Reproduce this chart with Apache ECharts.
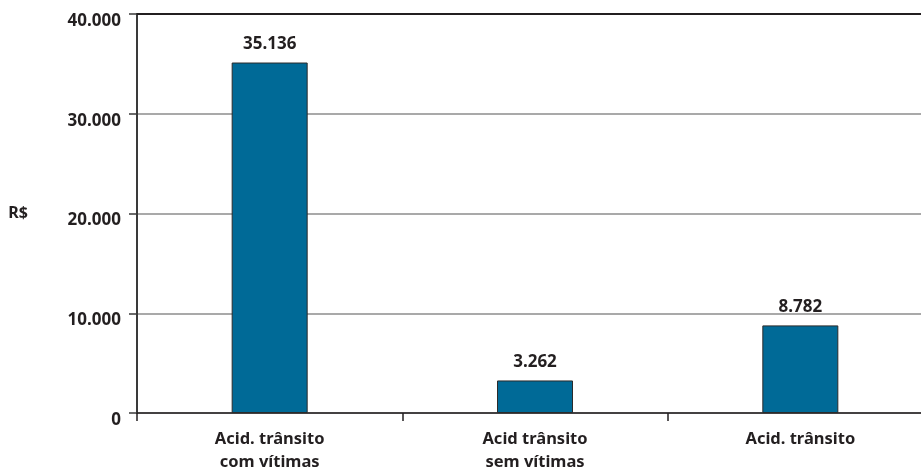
<!DOCTYPE html>
<html>
<head>
<meta charset="utf-8">
<script src="https://cdn.jsdelivr.net/npm/echarts@6/dist/echarts.min.js"></script>
<style>
  html, body { margin: 0; padding: 0; background: #fff; }
  #chart { width: 921px; height: 471px; }
</style>
</head>
<body>
<div id="chart"></div>
<script>
// dados do gráfico
const categorias = ['Acid. trânsito\ncom vítimas', 'Acid trânsito\nsem vítimas', 'Acid. trânsito']
const valores = [35136, 3262, 8782]
const eixoY = { min: 0, max: 40000, interval: 10000 }
const nomeEixo = 'R$'

// separador de milhar com ponto
function fmt(v) {
  return String(Math.round(v)).replace(/\B(?=(\d{3})+(?!\d))/g, '.')
}

const textColor = '#231f20'
const fonte = '"Noto Sans", "Open Sans", sans-serif'

const chart = echarts.init(document.getElementById('chart'))
chart.setOption({
  animation: false,
  // a área do gráfico continua além da borda direita
  grid: { left: 137, width: 796, top: 14, bottom: 58, outerBoundsMode: 'none' },
  xAxis: [
    {
      type: 'category',
      data: categorias,
      axisLine: { lineStyle: { color: '#231f20', width: 1.5 } },
      axisTick: { show: true, length: 8, lineStyle: { color: '#231f20', width: 1.5 } },
      axisLabel: {
        color: textColor,
        fontFamily: fonte,
        fontWeight: 'bold',
        fontSize: 16.5,
        lineHeight: 23,
        margin: 15,
      },
    },
    {
      // linha superior do quadro
      type: 'category',
      position: 'top',
      data: categorias,
      axisLine: { show: true, lineStyle: { color: '#231f20', width: 2 } },
      axisTick: { show: false },
      axisLabel: { show: false },
    },
  ],
  yAxis: {
    type: 'value',
    min: eixoY.min,
    max: eixoY.max,
    interval: eixoY.interval,
    name: nomeEixo,
    nameLocation: 'middle',
    nameRotate: 0,
    nameGap: 109,
    nameTextStyle: {
      color: textColor,
      fontFamily: fonte,
      fontWeight: 'bold',
      fontSize: 16,
    },
    axisLine: { show: true, lineStyle: { color: '#3a3a3a', width: 2 } },
    axisTick: { show: true, length: 8, lineStyle: { color: '#3a3a3a', width: 1.5 } },
    axisLabel: {
      color: textColor,
      fontFamily: fonte,
      fontWeight: 'bold',
      fontSize: 17,
      margin: 16,
      verticalAlign: 'top',
      lineHeight: 14,
      formatter: (v) => fmt(v),
    },
    splitLine: { show: true, lineStyle: { color: '#8c8c8c', width: 1.5 } },
  },
  series: [
    {
      type: 'bar',
      data: valores,
      barWidth: 76,
      itemStyle: { color: '#006a97', borderColor: '#2b2b2b', borderWidth: 1 },
      label: {
        show: true,
        position: 'top',
        distance: 10,
        color: textColor,
        fontFamily: fonte,
        fontWeight: 'bold',
        fontSize: 17,
        formatter: (p) => fmt(p.value),
      },
    },
  ],
})
</script>
</body>
</html>
